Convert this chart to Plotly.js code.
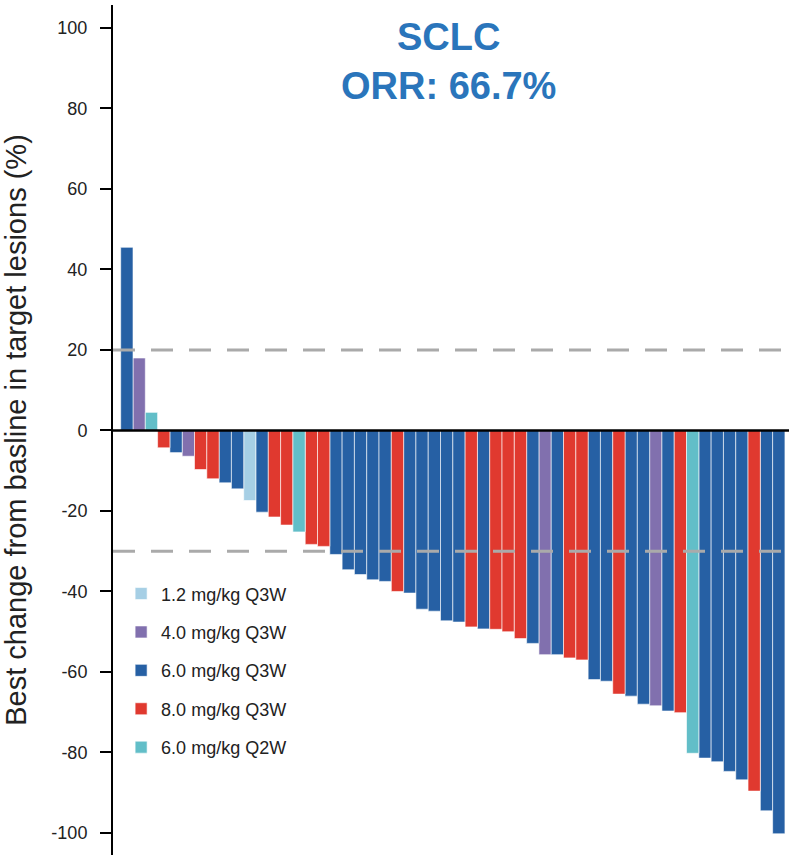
<!DOCTYPE html>
<html>
<head>
<meta charset="utf-8">
<script src="https://cdn.plot.ly/plotly-3.0.1.min.js"></script>
<style>
  html, body { margin: 0; padding: 0; background: #ffffff; }
  #chart { width: 789px; height: 855px; }
</style>
</head>
<body>
<div id="chart"></div>
<script>
// ---- Data ----
const bestChange = [
  45.5, 18, 4.5, -4.3, -5.5, -6.4, -9.7, -12, -13, -14.5,
  -17.4, -20.3, -21.5, -23.5, -25.2, -28.3, -28.8, -30.8, -34.6, -35.8,
  -37.1, -37.5, -40, -40.4, -44.4, -44.9, -47.3, -47.6, -48.8, -49.3,
  -49.4, -50, -51.7, -52.9, -55.7, -55.7, -56.5, -57, -61.9, -62.3,
  -65.5, -66, -68, -68.4, -69.7, -70.1, -80.2, -81.4, -82.3, -84.7,
  -86.8, -89.6, -94.5, -100.2
];
const doseGroup = [
  "6.0 mg/kg Q3W", "4.0 mg/kg Q3W", "6.0 mg/kg Q2W", "8.0 mg/kg Q3W", "6.0 mg/kg Q3W",
  "4.0 mg/kg Q3W", "8.0 mg/kg Q3W", "8.0 mg/kg Q3W", "6.0 mg/kg Q3W", "6.0 mg/kg Q3W",
  "1.2 mg/kg Q3W", "6.0 mg/kg Q3W", "8.0 mg/kg Q3W", "8.0 mg/kg Q3W", "6.0 mg/kg Q2W",
  "8.0 mg/kg Q3W", "8.0 mg/kg Q3W", "6.0 mg/kg Q3W", "6.0 mg/kg Q3W", "6.0 mg/kg Q3W",
  "6.0 mg/kg Q3W", "6.0 mg/kg Q3W", "8.0 mg/kg Q3W", "6.0 mg/kg Q3W", "6.0 mg/kg Q3W",
  "6.0 mg/kg Q3W", "6.0 mg/kg Q3W", "6.0 mg/kg Q3W", "8.0 mg/kg Q3W", "6.0 mg/kg Q3W",
  "8.0 mg/kg Q3W", "8.0 mg/kg Q3W", "8.0 mg/kg Q3W", "6.0 mg/kg Q3W", "4.0 mg/kg Q3W",
  "6.0 mg/kg Q3W", "8.0 mg/kg Q3W", "8.0 mg/kg Q3W", "6.0 mg/kg Q3W", "6.0 mg/kg Q3W",
  "8.0 mg/kg Q3W", "6.0 mg/kg Q3W", "6.0 mg/kg Q3W", "4.0 mg/kg Q3W", "6.0 mg/kg Q3W",
  "8.0 mg/kg Q3W", "6.0 mg/kg Q2W", "6.0 mg/kg Q3W", "6.0 mg/kg Q3W", "6.0 mg/kg Q3W",
  "6.0 mg/kg Q3W", "8.0 mg/kg Q3W", "6.0 mg/kg Q3W", "6.0 mg/kg Q3W"
];
const doseLabels = ["1.2 mg/kg Q3W", "4.0 mg/kg Q3W", "6.0 mg/kg Q3W", "8.0 mg/kg Q3W", "6.0 mg/kg Q2W"];
const doseColors = ["#a6cfe5", "#8170ae", "#2660a4", "#e0392f", "#62bec8"];
const yTicks = [100, 80, 60, 40, 20, 0, -20, -40, -60, -80, -100];
const thresholds = [20, -30];
const titleLines = ["SCLC", "ORR: 66.7%"];
const yTitle = "Best change from basline in target lesions (%)";

// ---- Traces: one per dose group ----
const patientPos = bestChange.map((v, i) => i + 1);
const traces = doseLabels.map((lab, k) => {
  const xs = [], ys = [];
  bestChange.forEach((v, i) => {
    if (doseGroup[i] === lab) { xs.push(patientPos[i]); ys.push(v); }
  });
  return {
    type: "bar",
    name: lab,
    x: xs,
    y: ys,
    width: 1,
    legendgroup: "g" + k,
    marker: { color: doseColors[k], line: { color: "rgba(255,255,255,0.75)", width: 0.8 } },
    hoverinfo: "x+y+name"
  };
});

const arial = "Liberation Sans, Arial, sans-serif";

const shapes = thresholds.map(t => ({
  type: "line", xref: "paper", x0: 0, x1: 1, yref: "y", y0: t, y1: t,
  line: { color: "#aaaaaa", width: 3, dash: "22px,16px" }, layer: "above"
}));
shapes.push({
  type: "line", xref: "paper", x0: 0, x1: 1, yref: "y", y0: 0, y1: 0,
  line: { color: "#000000", width: 2.5 }, layer: "above"
});

const layout = {
  width: 789, height: 855,
  margin: { l: 113, r: 0, t: 5, b: 0 },
  paper_bgcolor: "#ffffff", plot_bgcolor: "#ffffff",
  barmode: "overlay",
  showlegend: true,
  legend: {
    x: 0.012, xanchor: "left", y: 0.329, yanchor: "top",
    font: { family: arial, size: 18, color: "#222222" },
    tracegroupgap: 12, traceorder: "grouped",
    bgcolor: "rgba(255,255,255,0)"
  },
  xaxis: {
    range: [-0.126, 54.83],
    showticklabels: false, ticks: "", showgrid: false, zeroline: false, showline: false,
    fixedrange: true
  },
  yaxis: {
    range: [-105.47, 105.7],
    tickvals: yTicks,
    ticktext: yTicks.map(String),
    ticks: "outside", ticklen: 11, tickwidth: 2, tickcolor: "#000000",
    ticklabelstandoff: 9,
    tickfont: { family: arial, size: 18, color: "#222222" },
    showline: true, linecolor: "#000000", linewidth: 2,
    showgrid: false, zeroline: false,
    title: { text: yTitle, font: { family: arial, size: 29, color: "#222222" }, standoff: 18 },
    automargin: false
  },
  shapes: shapes,
  annotations: [{
    xref: "paper", yref: "paper", x: 0.4956, y: 0.933, xanchor: "center", yanchor: "middle",
    text: "<b>" + titleLines.join("<br>") + "</b>",
    showarrow: false,
    font: { family: arial, size: 38, color: "#2a75bb" }
  }]
};

Plotly.newPlot("chart", traces, layout, { displayModeBar: false });
</script>
</body>
</html>
